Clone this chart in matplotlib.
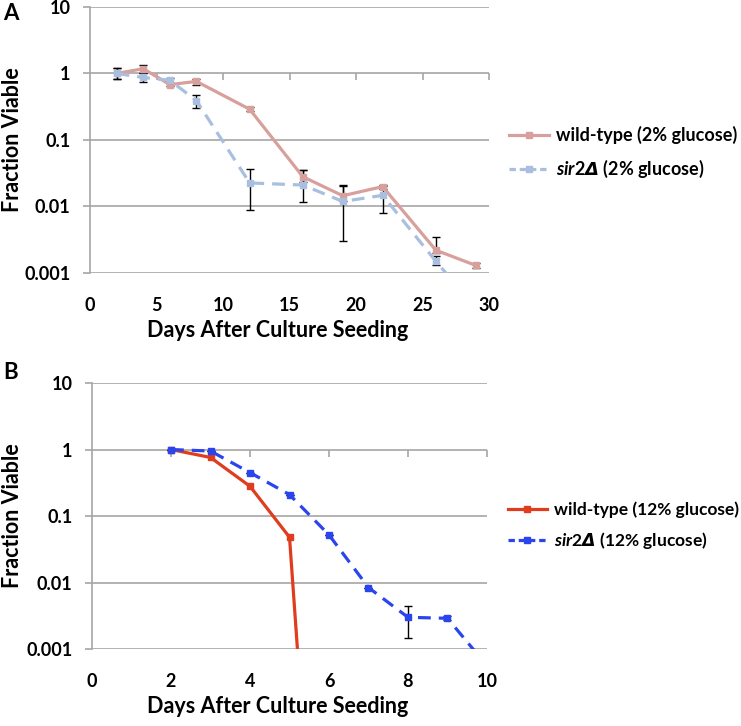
import numpy as np
import matplotlib.pyplot as plt
from matplotlib.lines import Line2D

plt.rcParams['font.family'] = ['Lato', 'DejaVu Sans']
plt.rcParams['font.weight'] = 'bold'
plt.rcParams['mathtext.fontset'] = 'custom'
plt.rcParams['mathtext.it'] = 'Lato:italic:bold'
plt.rcParams['mathtext.rm'] = 'Lato:bold'
plt.rcParams['mathtext.sf'] = 'DejaVu Sans:italic:bold'

# panel A: 2% glucose
days_a = [2, 4, 6, 8, 12, 16, 19, 22, 26, 29]
wt2 = [1.0, 1.18, 0.68, 0.76, 0.29, 0.028, 0.0145, 0.0199, 0.0022, 0.0013]
wt2_hi = [1.19, 1.36, 0.72, 0.84, 0.31, 0.035, 0.021, 0.021, 0.0035, 0.0014]
wt2_lo = [0.84, 1.0, 0.65, 0.68, 0.27, 0.023, 0.012, 0.018, 0.0020, 0.0012]
sir2 = [1.0, 0.87, 0.79, 0.39, 0.0226, 0.021, 0.0119, 0.0147, 0.0015, 0.0003]
sir2_hi = [1.19, 1.0, 0.85, 0.48, 0.036, 0.035, 0.0204, 0.02, 0.0018, 0.0003]
sir2_lo = [0.84, 0.75, 0.72, 0.30, 0.0087, 0.0116, 0.003, 0.0081, 0.0013, 0.0003]

# panel B: 12% glucose
days_b = [2, 3, 4, 5, 6]
wt12 = [1.0, 0.76, 0.28, 0.048, 2e-10]
days_b2 = [2, 3, 4, 5, 6, 7, 8, 9, 10]
sir12 = [1.0, 0.95, 0.45, 0.21, 0.052, 0.0084, 0.003, 0.0029, 0.00056]
sir12_hi = [1.0, 0.95, 0.45, 0.21, 0.052, 0.0084, 0.0044, 0.0031, 0.00056]
sir12_lo = [1.0, 0.95, 0.45, 0.21, 0.052, 0.0084, 0.00145, 0.0027, 0.00056]

c_wt2, c_sir2 = '#D8A09C', '#A9BFE0'
c_wt12, c_sir12 = '#E03C1E', '#2B45EE'
grid_c = '#A6A6A6'


def err(y, lo, hi):
    y = np.array(y)
    return [y - np.array(lo), np.array(hi) - y]


def style(ax, xmax, xstep, label_x):
    ax.set_yscale('log')
    ax.set_ylim(0.001, 10)
    ax.set_xlim(0, xmax)
    ax.set_yticks([0.001, 0.01, 0.1, 1, 10])
    ax.set_yticklabels(['0.001', '0.01', '0.1', '1', '10'])
    ax.minorticks_off()
    ax.set_xticks(np.arange(0, xmax + 1, xstep))
    ax.grid(axis='y', color=grid_c, lw=1.2)
    ax.set_axisbelow(True)
    for s in ['top', 'right', 'bottom']:
        ax.spines[s].set_visible(False)
    ax.spines['left'].set_color(grid_c)
    ax.spines['left'].set_linewidth(1.2)
    ax.tick_params(axis='y', length=5, color=grid_c, width=1.2, labelsize=13, pad=9)
    ax.tick_params(axis='x', length=0, labelsize=13, pad=17)
    # excel draws the category axis across y=1
    sec = ax.secondary_xaxis(0.75)
    sec.set_xticks(np.arange(xstep, xmax + 1, xstep))
    sec.tick_params(length=5, color=grid_c, width=1.2, direction='in',
                    labeltop=False, labelbottom=False)
    for s in sec.spines.values():
        s.set_visible(False)
    ax.set_xlabel('Days After Culture Seeding', fontsize=15.5, fontweight='bold')
    ax.xaxis.set_label_coords(0.47, -0.175)
    ax.set_ylabel('Fraction Viable', fontsize=15.5, fontweight='bold')
    ax.yaxis.set_label_coords(label_x, 0.5)


fig = plt.figure(figsize=(7.41, 7.26), dpi=100)
ax1 = fig.add_axes([0.1215, 0.624, 0.5385, 0.3664])
ax2 = fig.add_axes([0.1242, 0.106, 0.533, 0.3664])

ax1.errorbar(days_a, wt2, yerr=err(wt2, wt2_lo, wt2_hi), color=c_wt2, lw=2.3,
             marker='s', ms=5, ecolor='black', elinewidth=1, capsize=3, zorder=3)
ax1.errorbar(days_a, sir2, yerr=err(sir2, sir2_lo, sir2_hi), color=c_sir2, lw=2.3,
             ls=(0, (4, 2.5)), marker='s', ms=5, ecolor='black', elinewidth=1,
             capsize=3, zorder=3)
style(ax1, 30, 5, -0.168)

ax2.plot(days_b, wt12, color=c_wt12, lw=2.3, marker='s', ms=5, zorder=3)
ax2.errorbar(days_b2, sir12, yerr=err(sir12, sir12_lo, sir12_hi), color=c_sir12, lw=2.3,
             ls=(0, (4, 2.5)), marker='s', ms=5, ecolor='black', elinewidth=1,
             capsize=3, zorder=3)
style(ax2, 10, 2, -0.175)

h_a = [Line2D([], [], color=c_wt2, lw=2.3, marker='s', ms=5),
       Line2D([], [], color=c_sir2, lw=2.3, ls=(0, (2, 1.2)), marker='s', ms=5)]
fig.legend(h_a, ['wild-type (2% glucose)', r'$\mathit{sir2}\mathsf{\Delta}$ (2% glucose)'],
           loc='center left', bbox_to_anchor=(0.665, 0.789), frameon=False,
           fontsize=13, handlelength=2.2, handletextpad=0.4, labelspacing=0.8)
h_b = [Line2D([], [], color=c_wt12, lw=2.3, marker='s', ms=5),
       Line2D([], [], color=c_sir12, lw=2.3, ls=(0, (2, 1.2)), marker='s', ms=5)]
fig.legend(h_b, ['wild-type (12% glucose)', r'$\mathit{sir2}\mathsf{\Delta}$ (12% glucose)'],
           loc='center left', bbox_to_anchor=(0.665, 0.2755), frameon=False,
           fontsize=12.5, handlelength=2.2, handletextpad=0.4, labelspacing=0.7)

fig.text(0.004, 0.982, 'A', fontsize=16, fontweight='bold', va='center')
fig.text(0.004, 0.4876, 'B', fontsize=16, fontweight='bold', va='center')

fig.savefig('out.png', dpi=100)
